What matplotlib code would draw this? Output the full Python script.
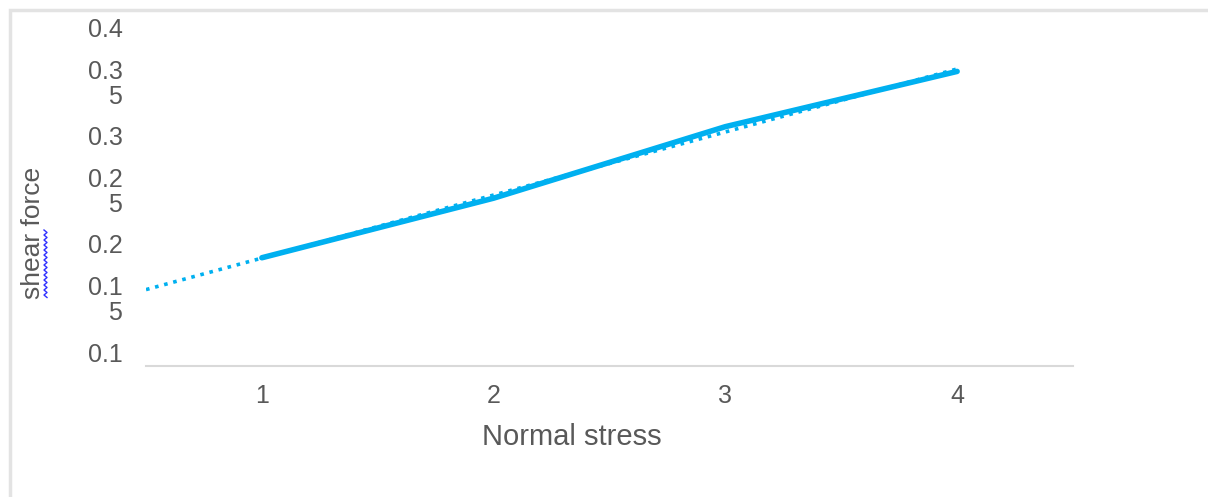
import matplotlib.pyplot as plt
from matplotlib.patches import Rectangle
from matplotlib.lines import Line2D
import numpy as np

# shear test readings
normal_stress = [1, 2, 3, 4]
shear_force = [0.187, 0.242, 0.308, 0.359]

y_ticks = [0.1, 0.15, 0.2, 0.25, 0.3, 0.35, 0.4]
y_tick_labels = ['0.1', '0.1\n5', '0.2', '0.2\n5', '0.3', '0.3\n5', '0.4']

blue = '#00B0F0'
grey_text = '#595959'
plt.rcParams['font.family'] = ['Liberation Sans', 'DejaVu Sans']

W, H = 1208, 497
fig = plt.figure(figsize=(W / 100, H / 100), dpi=100)

# chart frame (left and top edges only show)
fig.patches.append(Rectangle((10 / W, -0.2), 1.2, 1.2 - 10 / H, transform=fig.transFigure,
                             fill=False, edgecolor='#e3e3e3', linewidth=2.5))

ax = fig.add_axes([146 / W, (H - 366) / H, (1073 - 146) / W, (366 - 27) / H])

# linear trend, extended half a category backwards
k, b = np.polyfit(normal_stress, shear_force, 1)
tx = np.array([0.5, 4.0])
ax.plot(tx, k * tx + b, color=blue, linewidth=2.6, linestyle=(0, (1, 1.6)),
        dash_capstyle='butt', zorder=2)
ax.plot(normal_stress, shear_force, color=blue, linewidth=4.0,
        solid_capstyle='round', zorder=3)

ax.set_xlim(0.5, 4.5)
ax.set_ylim(0.1 - 14 * 0.3 / 325, 0.4)
ax.set_xticks(normal_stress)
ax.set_xticklabels([str(v) for v in normal_stress])
ax.set_yticks(y_ticks)
ax.set_yticklabels(y_tick_labels)
for lab in ax.get_yticklabels():
    lab.set_linespacing(1.05)

ax.tick_params(axis='both', length=0, labelsize=18, colors=grey_text)
ax.tick_params(axis='y', pad=17)
ax.tick_params(axis='x', pad=13)

for side in ['top', 'right', 'left']:
    ax.spines[side].set_visible(False)
ax.spines['bottom'].set_color('#d9d9d9')
ax.spines['bottom'].set_linewidth(1.5)

ax.set_xlabel('Normal stress', fontsize=21, color=grey_text)
ax.xaxis.set_label_coords((572 - 146) / (1073 - 146), -(437 - 366) / (366 - 27), transform=ax.transAxes)
ax.xaxis.label.set_va('center')
ax.set_ylabel('shear force', fontsize=19, color=grey_text)
ax.yaxis.set_label_coords((33 - 146) / (1073 - 146), (366 - 233) / (366 - 27), transform=ax.transAxes)
ax.yaxis.label.set_va('center')

# spell-check squiggle beside "shear"
sy = np.arange(230, 300, 2.5)
sx = np.where(np.arange(len(sy)) % 2 == 0, 44, 47)
fig.lines.append(Line2D(sx / W, 1 - sy / H, transform=fig.transFigure,
                        color='#3030ff', linewidth=1.0))

fig.savefig('out.png', dpi=100, facecolor='white')
